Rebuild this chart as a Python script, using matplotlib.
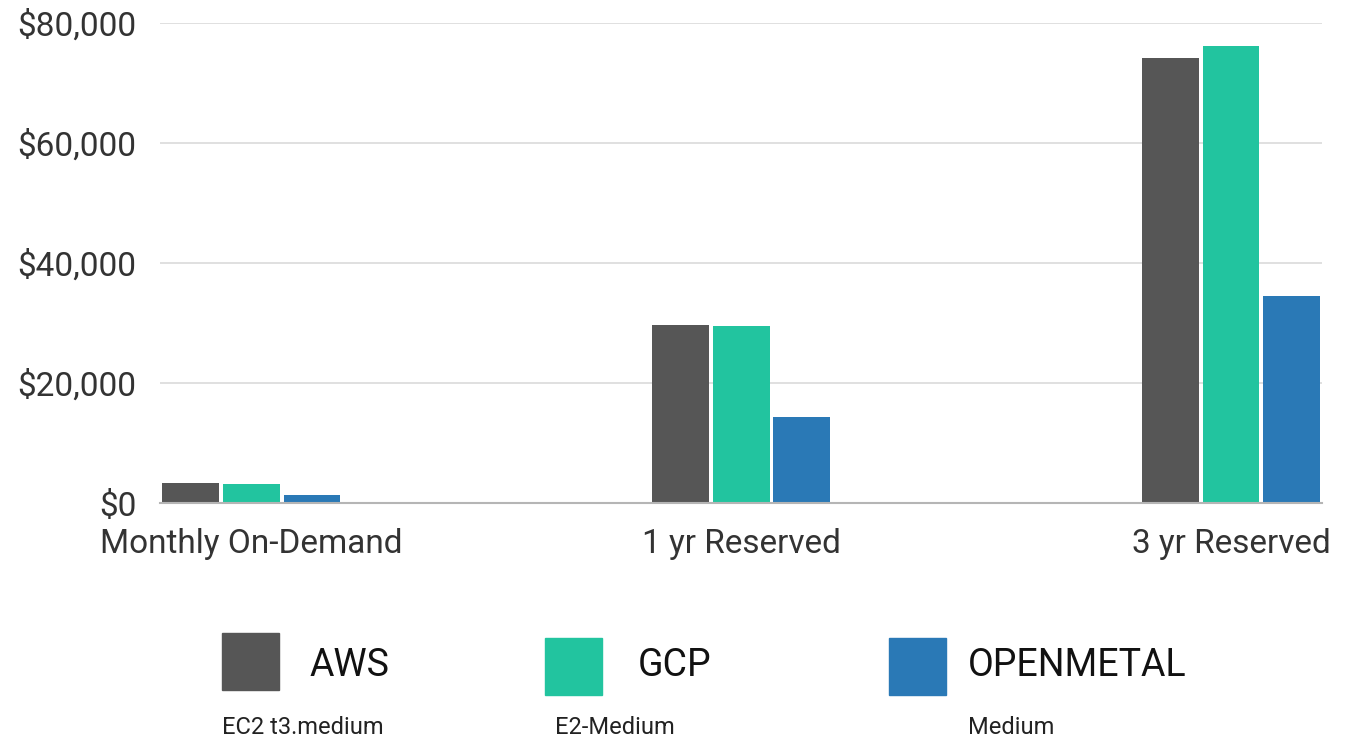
import numpy as np
import matplotlib.pyplot as plt
from matplotlib.patches import Rectangle
from matplotlib.ticker import FuncFormatter

# cost per instance type
categories = ["Monthly On-Demand", "1 yr Reserved", "3 yr Reserved"]
providers = ["AWS", "GCP", "OPENMETAL"]
instances = ["EC2 t3.medium", "E2-Medium", "Medium"]
aws = [3300, 29700, 74200]
gcp = [3150, 29500, 76200]
openmetal = [1360, 14300, 34500]
yticks = [0, 20000, 40000, 60000, 80000]

colors = ["#565656", "#22c49f", "#2a79b6"]
text_color = "#333333"

plt.rcParams['font.family'] = ['Roboto', 'DejaVu Sans']

fig = plt.figure(figsize=(13.45, 7.40), dpi=100)
ax = fig.add_axes([0.119, 0.320, 0.864, 0.649])

x = np.arange(len(categories))
width = 0.116
step = 0.124
for i, (vals, col) in enumerate(zip([aws, gcp, openmetal], colors)):
    ax.bar(x + (i - 1) * step, vals, width, color=col, zorder=3)

ax.set_xlim(-1.5 * step, len(categories) - 1 + 1.5 * step)
ax.set_ylim(0, 80000)
ax.set_yticks(yticks)
ax.yaxis.set_major_formatter(FuncFormatter(lambda v, p: f"${v:,.0f}"))
ax.set_xticks(x)
ax.set_xticklabels(categories)

ax.grid(axis='y', color='#dadada', linewidth=1.2, zorder=0)
for s in ['top', 'right', 'left']:
    ax.spines[s].set_visible(False)
ax.spines['bottom'].set_color('#b5b5b5')
ax.spines['bottom'].set_linewidth(1.5)
ax.spines['bottom'].set_zorder(4)
ax.tick_params(axis='both', length=0, labelsize=24, colors=text_color)
ax.tick_params(axis='y', pad=17)
ax.tick_params(axis='x', pad=18)

# legend below the chart, drawn by hand
W, H = 1345, 740
sq_left = [222, 545, 889]
sq_top = [633, 638, 638]
label_left = [310, 638, 968]
sub_left = [222, 555, 968]
for i in range(3):
    left = sq_left[i] / W
    bottom = 1 - (sq_top[i] + 57) / H
    fig.patches.append(Rectangle((left, bottom), 57 / W, 57 / H,
                                 transform=fig.transFigure, color=colors[i]))
    fig.text(label_left[i] / W, 1 - 665 / H, providers[i], fontsize=27,
             color='#111111', va='center', ha='left')
    fig.text(sub_left[i] / W, 1 - 727 / H, instances[i], fontsize=17,
             color='#222222', va='center', ha='left')

fig.savefig("out.png", dpi=100)
